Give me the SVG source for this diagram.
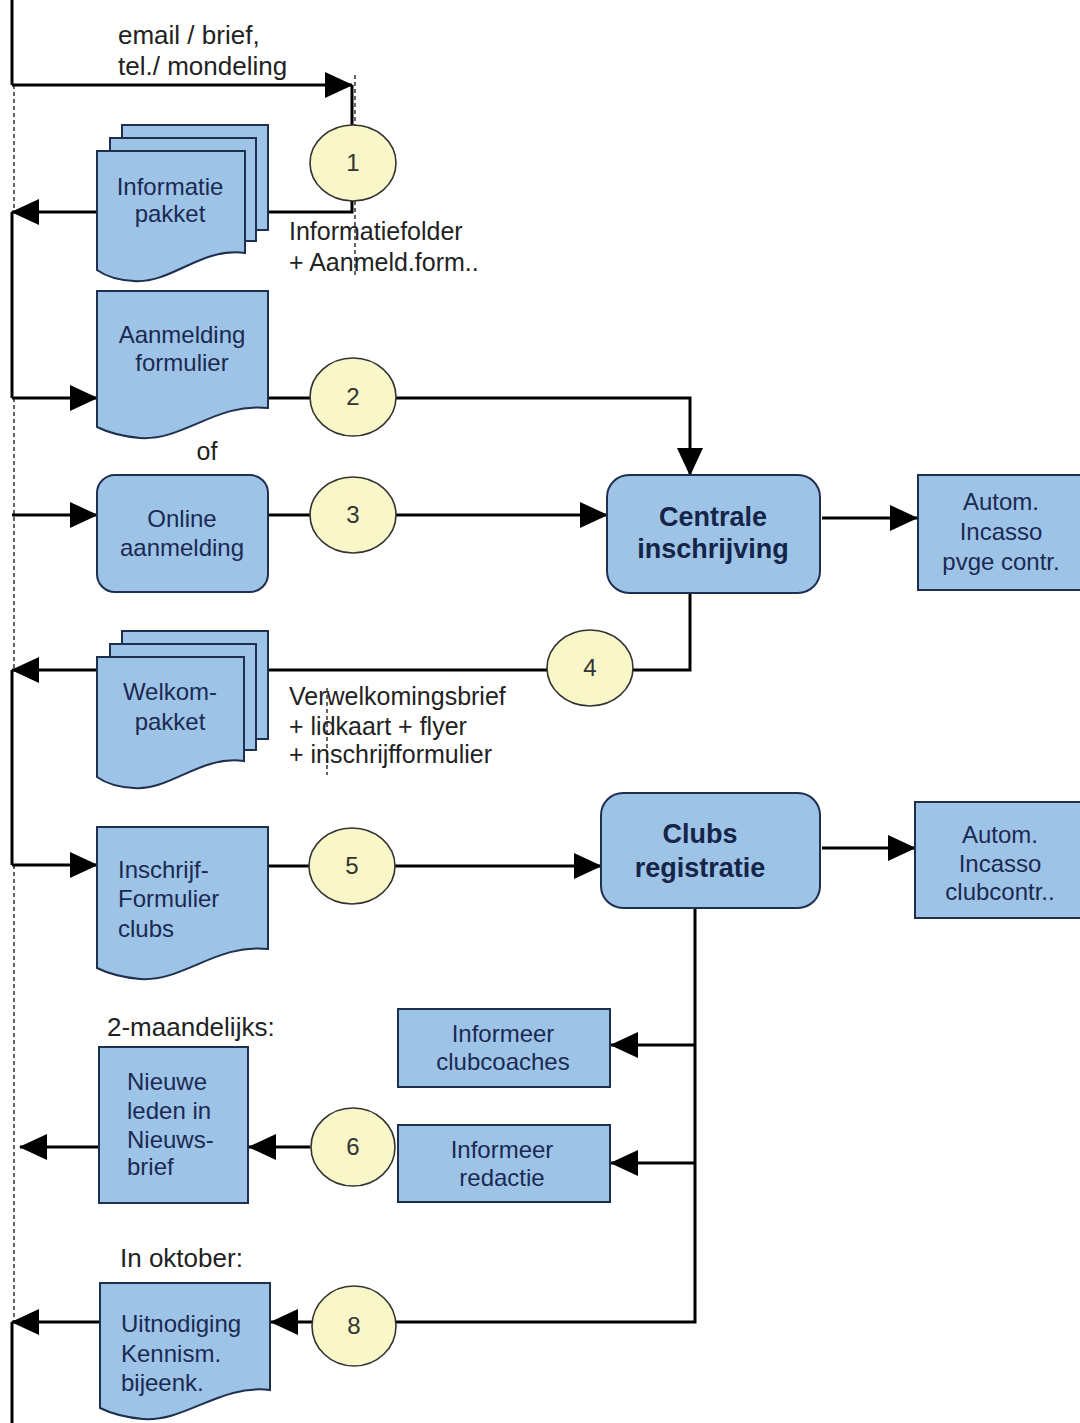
<svg xmlns="http://www.w3.org/2000/svg" width="1080" height="1423" viewBox="0 0 1080 1423">
<defs>
<marker id="ah" markerUnits="userSpaceOnUse" markerWidth="28" markerHeight="26" refX="27" refY="13" orient="auto">
<path d="M0,0 L28,13 L0,26 Z" fill="#000"/>
</marker>
<style>
.ln{stroke:#000;stroke-width:3;fill:none}
.arr{stroke:#000;stroke-width:3;fill:none;marker-end:url(#ah)}
.dash{stroke:#000;stroke-width:1.2;fill:none;stroke-dasharray:4 3}
.box{fill:#9dc3e6;stroke:#1f2f4f;stroke-width:2}
.circ{fill:#f9f7c8;stroke:#333;stroke-width:1.6}
.bt{font-family:"Liberation Sans",Arial,sans-serif;font-size:24px;fill:#1b2a52}
.bb{font-family:"Liberation Sans",Arial,sans-serif;font-size:27px;font-weight:bold;fill:#152447}
.lt{font-family:"Liberation Sans",Arial,sans-serif;font-size:25px;fill:#222}
.nt{font-family:"Liberation Sans",Arial,sans-serif;font-size:24px;fill:#333;text-anchor:middle}
.c{text-anchor:middle}
</style>
</defs>
<rect width="1080" height="1423" fill="#fff"/>

<g id="connectors">
<path class="ln" d="M12,0 V85"/>
<path class="dash" d="M14,85 V212"/>
<path class="ln" d="M12,212 V398"/>
<path class="dash" d="M14,398 V670"/>
<path class="ln" d="M12,670 V865"/>
<path class="dash" d="M14,865 V1322"/>
<path class="ln" d="M12,1322 V1423"/>
<path class="arr" d="M12,85 H352"/>
<path class="ln" d="M352,85 V125"/>
<path class="dash" d="M355,75 V275"/>
<path class="ln" d="M352,200 V212 H268"/>
<path class="arr" d="M97,212 H12"/>
<path class="arr" d="M12,398 H97"/>
<path class="ln" d="M268,398 H311"/>
<path class="arr" d="M396,398 H690 V475"/>
<path class="arr" d="M12,515 H97"/>
<path class="ln" d="M268,515 H311"/>
<path class="arr" d="M396,515 H607"/>
<path class="arr" d="M822,518 H917"/>
<path class="ln" d="M690,593 V670 H633"/>
<path class="ln" d="M547,670 H268"/>
<path class="arr" d="M97,670 H12"/>
<path class="dash" d="M327,688 V775"/>
<path class="arr" d="M12,865 H97"/>
<path class="ln" d="M268,866 H310"/>
<path class="arr" d="M395,866 H601"/>
<path class="arr" d="M822,848 H915"/>
<path class="ln" d="M695,908 V1322 H396"/>
<path class="arr" d="M695,1045 H611"/>
<path class="arr" d="M695,1163 H611"/>
<path class="arr" d="M310,1147 H249"/>
<path class="arr" d="M99,1147 H20"/>
<path class="arr" d="M312,1322 H271"/>
<path class="arr" d="M100,1322 H12"/>
</g>

<g id="labels">
<text class="lt" x="118" y="44" style="font-size:26px">email / brief,</text>
<text class="lt" x="118" y="75" style="font-size:26px">tel./ mondeling</text>
<text class="lt" x="289" y="240">Informatiefolder</text>
<text class="lt" x="289" y="271">+ Aanmeld.form..</text>
<text class="lt c" x="207" y="460">of</text>
<text class="lt" x="289" y="705">Verwelkomingsbrief</text>
<text class="lt" x="289" y="735">+ lidkaart + flyer</text>
<text class="lt" x="289" y="763">+ inschrijfformulier</text>
<text class="lt" x="107" y="1036" style="font-size:26px">2-maandelijks:</text>
<text class="lt" x="120" y="1267" style="font-size:26px">In oktober:</text>
</g>

<g id="informatie-pakket">
<rect class="box" x="122" y="125" width="146" height="105"/>
<rect class="box" x="110" y="138" width="146" height="103"/>
<path class="box" d="M97,151 H245 V253 C201,247 171,284 134,281 C115,280 104,275 97,270 Z"/>
<text class="bt c" x="170" y="195">Informatie</text>
<text class="bt c" x="170" y="222">pakket</text>
</g>

<g id="c1">
<ellipse class="circ" cx="353" cy="163" rx="43" ry="38"/>
<text class="nt" x="353" y="171">1</text>
</g>

<g id="aanmelding-formulier">
<path class="box" d="M97,291 H268 V408 C217,402 183,441 140,438 C118,436 105,431 97,427 Z"/>
<text class="bt c" x="182" y="343">Aanmelding</text>
<text class="bt c" x="182" y="371">formulier</text>
</g>

<g id="c2">
<ellipse class="circ" cx="353" cy="397" rx="43" ry="39"/>
<text class="nt" x="353" y="405">2</text>
</g>

<g id="online-aanmelding">
<rect class="box" x="97" y="475" width="171" height="117" rx="18"/>
<text class="bt c" x="182" y="527">Online</text>
<text class="bt c" x="182" y="556">aanmelding</text>
</g>

<g id="c3">
<ellipse class="circ" cx="353" cy="515" rx="43" ry="38"/>
<text class="nt" x="353" y="523">3</text>
</g>

<g id="centrale-inschrijving">
<rect class="box" x="607" y="475" width="213" height="118" rx="22"/>
<text class="bb c" x="713" y="526">Centrale</text>
<text class="bb c" x="713" y="558">inschrijving</text>
</g>

<g id="autom-pvge">
<rect class="box" x="918" y="475" width="166" height="115"/>
<text class="bt c" x="1001" y="510">Autom.</text>
<text class="bt c" x="1001" y="540">Incasso</text>
<text class="bt c" x="1001" y="570">pvge contr.</text>
</g>

<g id="c4">
<ellipse class="circ" cx="590" cy="668" rx="43" ry="38"/>
<text class="nt" x="590" y="676">4</text>
</g>

<g id="welkom-pakket">
<rect class="box" x="122" y="631" width="146" height="108"/>
<rect class="box" x="110" y="644" width="146" height="106"/>
<path class="box" d="M97,657 H244 V761 C200,755 170,791 134,788 C115,787 104,782 97,777 Z"/>
<text class="bt c" x="170" y="700">Welkom-</text>
<text class="bt c" x="170" y="730">pakket</text>
</g>

<g id="inschrijf-formulier">
<path class="box" d="M97,827 H268 V949 C217,943 183,982 140,979 C118,977 105,972 97,968 Z"/>
<text class="bt" x="118" y="878">Inschrijf-</text>
<text class="bt" x="118" y="907">Formulier</text>
<text class="bt" x="118" y="937">clubs</text>
</g>

<g id="c5">
<ellipse class="circ" cx="352" cy="866" rx="43" ry="38"/>
<text class="nt" x="352" y="874">5</text>
</g>

<g id="clubs-registratie">
<rect class="box" x="601" y="793" width="219" height="115" rx="22"/>
<text class="bb c" x="700" y="843">Clubs</text>
<text class="bb c" x="700" y="877">registratie</text>
</g>

<g id="autom-club">
<rect class="box" x="915" y="802" width="169" height="116"/>
<text class="bt c" x="1000" y="843">Autom.</text>
<text class="bt c" x="1000" y="872">Incasso</text>
<text class="bt c" x="1000" y="900">clubcontr..</text>
</g>

<g id="informeer-clubcoaches">
<rect class="box" x="398" y="1009" width="212" height="78"/>
<text class="bt c" x="503" y="1042">Informeer</text>
<text class="bt c" x="503" y="1070">clubcoaches</text>
</g>

<g id="informeer-redactie">
<rect class="box" x="398" y="1125" width="212" height="77"/>
<text class="bt c" x="502" y="1158">Informeer</text>
<text class="bt c" x="502" y="1186">redactie</text>
</g>

<g id="c6">
<ellipse class="circ" cx="353" cy="1147" rx="42" ry="39"/>
<text class="nt" x="353" y="1155">6</text>
</g>

<g id="nieuwe-leden">
<rect class="box" x="99" y="1047" width="149" height="156"/>
<text class="bt" x="127" y="1090">Nieuwe</text>
<text class="bt" x="127" y="1119">leden in</text>
<text class="bt" x="127" y="1148">Nieuws-</text>
<text class="bt" x="127" y="1175">brief</text>
</g>

<g id="c8">
<ellipse class="circ" cx="354" cy="1326" rx="42" ry="40"/>
<text class="nt" x="354" y="1334">8</text>
</g>

<g id="uitnodiging">
<path class="box" d="M100,1283 H270 V1390 C220,1384 186,1422 143,1419 C121,1417 108,1412 100,1408 Z"/>
<text class="bt" x="121" y="1332">Uitnodiging</text>
<text class="bt" x="121" y="1362">Kennism.</text>
<text class="bt" x="121" y="1391">bijeenk.</text>
</g>
</svg>
